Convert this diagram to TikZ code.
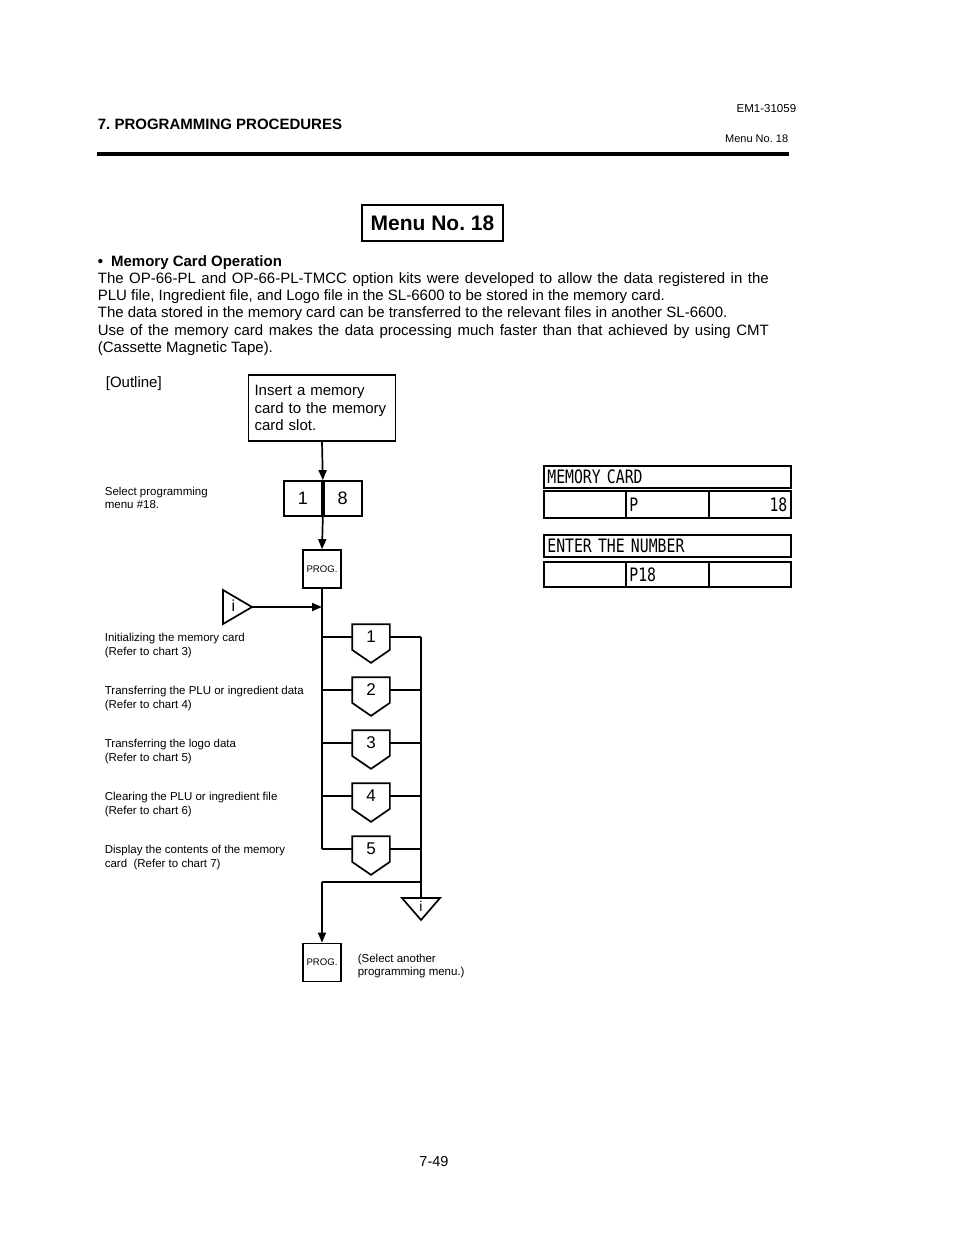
\documentclass[tikz,border=0pt]{standalone}
\usepackage{fontspec}
\setmainfont{Liberation Sans}
\newfontfamily\lcdfont[FakeStretch=0.8]{DejaVu Sans Mono}
\usetikzlibrary{arrows.meta, positioning, calc}
\frenchspacing

\begin{document}
\begin{tikzpicture}[x=1pt, y=-1pt, line width=1.7pt,
  body/.style={inner sep=0pt, font=\fontsize{15}{17.4}\selectfont},
  small/.style={inner sep=0pt, align=left, font=\fontsize{11.5}{13.5}\selectfont},
  prog/.style={draw, rectangle, minimum width=38, minimum height=38, inner sep=0pt,
    font=\fontsize{9.6}{10}\selectfont},
  digit/.style={draw, rectangle, minimum width=38, minimum height=35, inner sep=0pt,
    font=\fontsize{18}{18}\selectfont},
  optkey/.style={rectangle, minimum width=36, minimum height=24, inner sep=0pt,
    font=\fontsize{17}{17}\selectfont},
  lcd/.style={draw, rectangle, anchor=north west, inner xsep=3.5pt, inner ysep=0pt,
    align=left, font=\lcdfont\fontsize{18.5}{18.5}\selectfont},
  arr/.style={-{Triangle[length=10pt, width=8pt]}}]
  \useasboundingbox (0,0) rectangle (954,1235);

  \node[anchor=base west, inner sep=0pt, font=\bfseries\fontsize{15}{18}\selectfont] (chap) at (97,129) {7. PROGRAMMING PROCEDURES};
  \node[anchor=base east, inner sep=0pt, font=\fontsize{11.5}{13}\selectfont] (docno) at (797,112) {EM1-31059};
  \node[anchor=base east, inner sep=0pt, font=\fontsize{11}{13}\selectfont] (menuref) at (789,142) {Menu No. 18};
  \draw[line width=4.5pt] (97,154) -- (789,154);

  \node[draw, minimum width=141, minimum height=36, inner sep=0pt,
    font=\bfseries\fontsize{21}{24}\selectfont] (title) at (432.5,223) {Menu No. 18};

  \node[body, anchor=base west, font=\bfseries\fontsize{15}{17.4}\selectfont] (heading) at (97,266) {\textbullet\hspace{8pt}Memory Card Operation};
  \node[body, anchor=base west] (para1) at (97,283) {\makebox[671pt][s]{The OP-66-PL and OP-66-PL-TMCC option kits were developed to allow the data registered in the}};
  \node[body, anchor=base west] (para2) at (97,300) {PLU file, Ingredient file, and Logo file in the SL-6600 to be stored in the memory card.};
  \node[body, anchor=base west] (para3) at (97,317) {The data stored in the memory card can be transferred to the relevant files in another SL-6600.};
  \node[body, anchor=base west] (para4) at (97,335) {\makebox[671pt][s]{Use of the memory card makes the data processing much faster than that achieved by using CMT}};
  \node[body, anchor=base west] (para5) at (97,352) {(Cassette Magnetic Tape).};

  \node[body, anchor=base west] (outline) at (105,387) {[Outline]};
  \node[draw, text width=135, align=left, minimum width=147, minimum height=66, inner xsep=6pt,
    font=\fontsize{15}{17.5}\selectfont] (insert) at (322,408) {Insert a memory\\card to the memory\\card slot.};

  \node[small, anchor=north west] (selectlbl) at (104,486) {Select programming\\menu \#18.};
  \node[digit] (one) at (303,498.5) {1};
  \node[digit, anchor=west] (eight) at (one.east) {8};
  \node[prog] (prog1) at (322,569) {PROG.};
  \draw[arr] (insert.south) -- (one.north east);
  \draw[arr] (one.south east) -- (prog1.north);

  \coordinate (ientapex) at (252,607);
  \coordinate (join) at (322,607);
  \draw (ientapex) -- ++(-29,-17) -- ++(0,34) -- cycle;
  \node[inner sep=0pt, font=\fontsize{16}{16}\selectfont] (ient) at (233.5,606) {i};
  \draw[arr] (ientapex) -- (join);

  \foreach \i/\txt [evaluate=\i as \yy using 584+53*\i] in {
    1/{Initializing the memory card\\(Refer to chart 3)},
    2/{Transferring the PLU or ingredient data\\(Refer to chart 4)},
    3/{Transferring the logo data\\(Refer to chart 5)},
    4/{Clearing the PLU or ingredient file\\(Refer to chart 6)},
    5/{Display the contents of the memory\\card\ \ (Refer to chart 7)}} {
    \node[small, anchor=north west] (desc\i) at (104,\yy-4.5) {\txt};
    \node[optkey] (key\i) at (371,\yy) {\i};
    \draw (key\i.north west) -- (key\i.north east) -- (key\i.south east)
      -- ($(key\i.south)+(0,13)$) -- (key\i.south west) -- cycle;
    \coordinate (L\i) at (322,\yy);
    \coordinate (R\i) at (421,\yy);
    \draw (L\i) -- (key\i.west) (key\i.east) -- (R\i);
  }
  \draw (prog1.south) -- (L5);

  \coordinate (iexit) at (421,898);
  \draw (R1) -- (iexit);
  \draw (iexit) -- ++(-19,0) -- ++(19,22) -- ++(19,-22) -- cycle;
  \node[inner sep=0pt, font=\fontsize{14}{14}\selectfont] (iout) at (421,906) {i};

  \coordinate (bl) at (322,882);
  \coordinate (br) at (421,882);
  \node[prog] (prog2) at (322,962.5) {PROG.};
  \draw (br) -- (bl);
  \draw[arr] (bl) -- (prog2.north);
  \node[small, anchor=north west] (againlbl) at (357,953) {(Select another\\programming menu.)};

  \node[lcd, text width=240, minimum height=22] (mc) at (543,465) {MEMORY CARD};
  \node[lcd, text width=75, minimum height=27] (mca) at (543,490) {};
  \node[lcd, text width=76, minimum height=27] (mcb) at (625,490) {P};
  \node[lcd, text width=75, minimum height=27, align=right] (mcc) at (708,490) {18};
  \node[lcd, text width=240, minimum height=22] (en) at (543,534) {ENTER THE NUMBER};
  \node[lcd, text width=75, minimum height=25] (ena) at (543,561) {};
  \node[lcd, text width=76, minimum height=25] (enb) at (625,561) {P18};
  \node[lcd, text width=75, minimum height=25] (enc) at (708,561) {};

  \node[anchor=base, inner sep=0pt, font=\fontsize{14.5}{17}\selectfont] (pageno) at (434,1166) {7-49};
\end{tikzpicture}
\end{document}
